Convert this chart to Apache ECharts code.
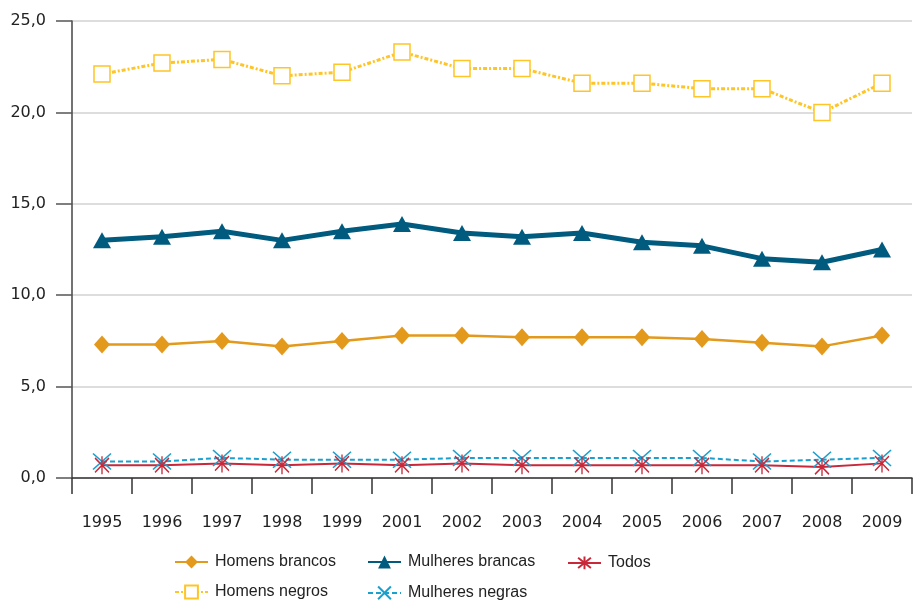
<!DOCTYPE html>
<html>
<head>
<meta charset="utf-8">
<script src="https://cdn.jsdelivr.net/npm/echarts@6/dist/echarts.min.js"></script>
<style>
html,body{margin:0;padding:0;background:#fff;}
#chart{width:914px;height:601px;}
</style>
</head>
<body>
<div id="chart"></div>
<script>
var years = ['1995','1996','1997','1998','1999','2001','2002','2003','2004','2005','2006','2007','2008','2009'];
var homensBrancos = [7.3,7.3,7.5,7.2,7.5,7.8,7.8,7.7,7.7,7.7,7.6,7.4,7.2,7.8];
var mulheresBrancas = [13.0,13.2,13.5,13.0,13.5,13.9,13.4,13.2,13.4,12.9,12.7,12.0,11.8,12.5];
var todos = [0.7,0.7,0.8,0.7,0.8,0.7,0.8,0.7,0.7,0.7,0.7,0.7,0.6,0.8];
var homensNegros = [22.1,22.7,22.9,22.0,22.2,23.3,22.4,22.4,21.6,21.6,21.3,21.3,20.0,21.6];
var mulheresNegras = [0.9,0.9,1.1,1.0,1.0,1.0,1.1,1.1,1.1,1.1,1.1,0.9,1.0,1.1];
var yTicks = {min:0, max:25, interval:5};

var AXFONT = 'DejaVu Sans';
var LGFONT = 'Liberation Sans';
var chart = echarts.init(document.getElementById('chart'), null, {renderer:'canvas'});

var asterisk = 'path://M5,0L5,10M1,1L9,9M1,9L9,1';
var xmark = 'path://M0,0L10,10M0,10L10,0';

function legend(name, left, top){
  return {
    data:[name], left:left, top:top, itemWidth:33, itemHeight:16, itemGap:10,
    textStyle:{fontFamily:LGFONT, fontSize:16, color:'#222', padding:[0,0,0,2]}, padding:0
  };
}

chart.setOption({
  animation:false,
  grid:{left:72, right:2, top:21, bottom:123, containLabel:false},
  legend:[
    legend('Homens brancos',174,554),
    legend('Mulheres brancas',367,554),
    legend('Todos',567,554),
    legend('Homens negros',174,584),
    legend('Mulheres negras',367,584)
  ],
  xAxis:{
    type:'category', data:years, boundaryGap:true,
    axisLine:{lineStyle:{color:'#333', width:1.5}},
    axisTick:{show:true, interval:0, length:16, lineStyle:{color:'#333', width:1.5}},
    axisLabel:{fontFamily:AXFONT, fontSize:16, color:'#222', margin:8, interval:0, padding:[29,0,0,0]},
    splitLine:{show:false}
  },
  yAxis:{
    type:'value', min:yTicks.min, max:yTicks.max, interval:yTicks.interval,
    axisLine:{show:true, lineStyle:{color:'#444', width:1.5}},
    axisTick:{show:true, length:16, lineStyle:{color:'#555', width:1.5}},
    axisLabel:{fontFamily:AXFONT, fontSize:16, color:'#222', margin:26,
      formatter:function(v){return v.toFixed(1).replace('.',',');}},
    splitLine:{show:true, lineStyle:{color:'#d2d2d2', width:1.5}}
  },
  series:[
    {name:'Mulheres negras', type:'line', data:mulheresNegras, symbol:xmark, symbolSize:[18,16],
      lineStyle:{color:'#1AA0CF', width:2, type:[5,3]}, itemStyle:{color:'none', borderColor:'#1AA0CF', borderWidth:1.5}},
    {name:'Homens negros', type:'line', data:homensNegros, symbol:'rect', symbolSize:16,
      lineStyle:{color:'#FFC526', width:3, type:[4,2,2,2]}, itemStyle:{color:'#fff', borderColor:'#FFC526', borderWidth:1.5}},
    {name:'Todos', type:'line', data:todos, symbol:asterisk, symbolSize:[14,18],
      lineStyle:{color:'#C8283A', width:2}, itemStyle:{color:'none', borderColor:'#C8283A', borderWidth:1.5}},
    {name:'Mulheres brancas', type:'line', data:mulheresBrancas, symbol:'triangle', symbolSize:[18,16],
      lineStyle:{color:'#005B7F', width:5}, itemStyle:{color:'#005B7F'}},
    {name:'Homens brancos', type:'line', data:homensBrancos, symbol:'diamond', symbolSize:[16,18],
      lineStyle:{color:'#E3991B', width:2.5}, itemStyle:{color:'#E3991B'}}
  ]
});
</script>
</body>
</html>
